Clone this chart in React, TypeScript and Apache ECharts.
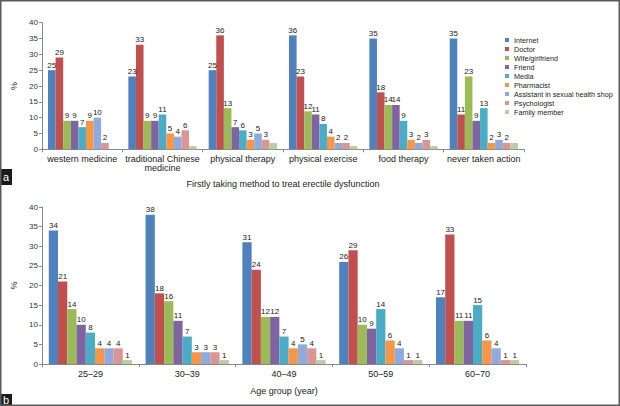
import React, { useEffect, useRef } from "react";
import * as echarts from "echarts";

const seriesNames = [
  "Internet",
  "Doctor",
  "Wife/girlfriend",
  "Friend",
  "Media",
  "Pharmacist",
  "Assistant in sexual health shop",
  "Psychologist",
  "Family member",
];
const colors = ["#4F81BD", "#C0504D", "#9BBB59", "#8064A2", "#4BACC6", "#F79646", "#8FAADC", "#D99694", "#B5CFA0"];

const methodCategories = [
  "western medicine",
  "traditional Chinese\nmedicine",
  "physical therapy",
  "physical exercise",
  "food therapy",
  "never taken action",
];
// values per source (series) across method categories
const methodInternet = [25, 23, 25, 36, 35, 35];
const methodDoctor = [29, 33, 36, 23, 18, 11];
const methodWife = [9, 9, 13, 12, 14, 23];
const methodFriend = [9, 9, 7, 11, 14, 9];
const methodMedia = [7, 11, 6, 8, 9, 13];
const methodPharmacist = [9, 5, 3, 4, 3, 2];
const methodAssistant = [10, 4, 5, 2, 2, 3];
const methodPsychologist = [2, 6, 3, 2, 3, 2];
const methodFamily = [0, 1, 2, 1, 1, 2];

const ageCategories = ["25–29", "30–39", "40–49", "50–59", "60–70"];
const ageInternet = [34, 38, 31, 26, 17];
const ageDoctor = [21, 18, 24, 29, 33];
const ageWife = [14, 16, 12, 10, 11];
const ageFriend = [10, 11, 12, 9, 11];
const ageMedia = [8, 7, 7, 14, 15];
const agePharmacist = [4, 3, 4, 6, 6];
const ageAssistant = [4, 3, 5, 4, 4];
const agePsychologist = [4, 3, 4, 1, 1];
const ageFamily = [1, 1, 1, 1, 1];

const yTicks = { min: 0, max: 40, interval: 5 };

export default function App() {
  const ref = useRef<HTMLDivElement>(null);
  useEffect(() => {
    document.body.style.margin = "0";
    const chart = echarts.init(ref.current!, undefined, { renderer: "svg" });
    const methodData = [
      methodInternet, methodDoctor, methodWife, methodFriend, methodMedia,
      methodPharmacist, methodAssistant, methodPsychologist, methodFamily,
    ];
    const ageData = [
      ageInternet, ageDoctor, ageWife, ageFriend, ageMedia,
      agePharmacist, ageAssistant, agePsychologist, ageFamily,
    ];
    const font = "Liberation Sans, Arial, sans-serif";
    const axisColor = "#8a8a8a";
    const textColor = "#222";
    const series: any[] = [];
    seriesNames.forEach((name, i) => {
      series.push({
        type: "bar",
        name,
        xAxisIndex: 0,
        yAxisIndex: 0,
        data: methodData[i],
        itemStyle: { color: colors[i] },
        barGap: "0%",
        barCategoryGap: "15%",
        label: {
          show: i < 8,
          position: "top",
          distance: 1,
          fontSize: 8,
          color: textColor,
          fontFamily: font,
          formatter: (p: any) => (p.value > 0 ? String(p.value) : ""),
        },
      });
    });
    seriesNames.forEach((name, i) => {
      series.push({
        type: "bar",
        name,
        xAxisIndex: 1,
        yAxisIndex: 1,
        data: ageData[i],
        itemStyle: { color: colors[i] },
        barGap: "0%",
        barCategoryGap: "14%",
        label: {
          show: true,
          position: "top",
          distance: 1,
          fontSize: 8,
          color: textColor,
          fontFamily: font,
        },
      });
    });
    const yAxisBase = (gridIndex: number) => ({
      type: "value",
      gridIndex,
      ...yTicks,
      name: "%",
      nameLocation: "middle",
      nameGap: 15,
      nameRotate: 90,
      nameTextStyle: { fontSize: 9, color: textColor, fontFamily: font },
      splitLine: { show: false },
      axisLine: { show: true, lineStyle: { color: axisColor } },
      axisTick: { show: true, length: 3, lineStyle: { color: axisColor } },
      axisLabel: { fontSize: 8, color: "#333", fontFamily: font, margin: 4 },
    });
    const xAxisBase = (gridIndex: number, data: string[], name: string, nameGap: number) => ({
      type: "category",
      gridIndex,
      data,
      name,
      nameLocation: "middle",
      nameGap,
      nameTextStyle: { fontSize: 9, color: textColor, fontFamily: font },
      axisLine: { show: true, lineStyle: { color: axisColor } },
      axisTick: { show: true, length: 3, lineStyle: { color: axisColor } },
      axisLabel: { fontSize: 9, color: textColor, fontFamily: font, margin: 5, lineHeight: 9, interval: 0 },
    });
    chart.setOption({
      animation: false,
      backgroundColor: "#fff",
      textStyle: { fontFamily: font },
      grid: [
        { left: 42, top: 22.7, width: 482, height: 126.6 },
        { left: 42, top: 207, width: 484, height: 157 },
      ],
      xAxis: [
        xAxisBase(0, methodCategories, "Firstly taking method to treat erectile dysfunction", 30),
        xAxisBase(1, ageCategories, "Age group (year)", 22),
      ],
      yAxis: [yAxisBase(0), yAxisBase(1)],
      legend: {
        orient: "vertical",
        left: 505,
        top: 35.5,
        padding: 0,
        data: seriesNames,
        icon: "rect",
        itemWidth: 4,
        itemHeight: 4,
        itemGap: 0,
        textStyle: { fontSize: 7.2, lineHeight: 9, color: textColor, fontFamily: font },
      },
      series,
      graphic: [
        {
          type: "rect",
          shape: { x: 0.75, y: 0.75, width: 618.5, height: 404.5 },
          style: { fill: "none", stroke: "#5a5a5a", lineWidth: 1.5 },
          z: 100,
        },
        { type: "rect", shape: { x: 0, y: 169, width: 12, height: 16 }, style: { fill: "#1a1a1a" } },
        {
          type: "text",
          x: 6,
          y: 177,
          style: { text: "a", fill: "#fff", fontSize: 11, fontFamily: font, align: "center", verticalAlign: "middle" },
        },
        { type: "rect", shape: { x: 0, y: 394, width: 12, height: 12 }, style: { fill: "#1a1a1a" } },
        {
          type: "text",
          x: 6,
          y: 400,
          style: { text: "b", fill: "#fff", fontSize: 11, fontFamily: font, align: "center", verticalAlign: "middle" },
        },
      ],
    });
    return () => chart.dispose();
  }, []);
  return <div ref={ref} style={{ width: 620, height: 406 }} />;
}
